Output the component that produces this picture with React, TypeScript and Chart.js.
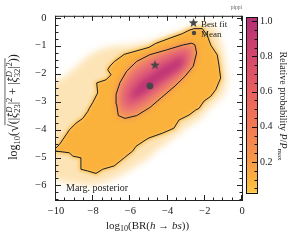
import React, { useEffect, useRef } from "react";
import { Chart, registerables } from "chart.js";
Chart.register(...registerables);

const SERIF = "'Liberation Serif', 'DejaVu Serif', serif";

// ---------- axis ranges & ticks ----------
const X_MIN = -10;
const X_MAX = 0;
const Y_MIN = -6.52;
const Y_MAX = 0.07;
const xTickValues = [-10, -8, -6, -4, -2, 0];
const yTickValues = [-6, -5, -4, -3, -2, -1, 0];
const cbTickValues = [0.2, 0.4, 0.6, 0.8, 1.0];
const CB_MIN = 0.018;
const CB_MAX = 1.024;

// ---------- density regions (x = log10 BR, y = log10 sqrt(...)) ----------
const faintRegion: number[][] = [
  [-10.6, -2.22], [-10.0, -2.22], [-9.64, -2.16], [-8.92, -1.75], [-8.21, -1.33], [-7.49, -1.1],
  [-6.77, -1.0], [-6.06, -0.98], [-5.0, -0.86], [-3.92, -0.63], [-3.21, -0.45], [-2.85, -0.33],
  [-2.31, -0.21], [-1.68, -0.21], [-1.33, -0.45], [-1.06, -0.98], [-0.88, -1.69], [-0.79, -2.28],
  [-0.97, -2.75], [-1.51, -3.1], [-1.77, -3.24], [-2.22, -3.6], [-3.03, -3.95], [-3.92, -4.42],
  [-4.64, -4.77], [-5.0, -5.01], [-5.7, -5.3], [-6.41, -5.6], [-7.31, -5.89], [-8.21, -6.01],
  [-8.92, -5.95], [-9.64, -5.89], [-10.0, -5.78], [-10.6, -5.8],
];
const outerContour: number[][] = [
  [-10.0, -4.66], [-9.82, -4.54], [-9.46, -4.19], [-9.28, -4.01], [-8.92, -3.77], [-8.56, -3.6],
  [-8.3, -3.36], [-8.21, -3.24], [-8.03, -3.04], [-7.76, -2.69], [-7.81, -2.33], [-7.31, -2.22],
  [-7.04, -2.04], [-7.22, -1.86], [-7.1, -1.73], [-6.87, -1.57], [-6.33, -1.31], [-5.0, -1.06],
  [-4.64, -0.92], [-3.92, -0.74], [-3.21, -0.57], [-2.85, -0.45], [-2.58, -0.39], [-2.13, -0.39],
  [-1.87, -0.63], [-1.68, -0.98], [-1.33, -1.33], [-1.24, -1.69], [-1.15, -2.16], [-1.41, -2.57],
  [-1.68, -2.81], [-2.04, -2.98], [-2.31, -3.24], [-2.49, -3.3], [-2.85, -3.48], [-3.39, -3.66],
  [-3.66, -3.95], [-4.28, -4.13], [-5.0, -4.3], [-5.16, -4.36], [-5.7, -4.6], [-5.88, -4.77],
  [-6.33, -5.01], [-6.87, -5.3], [-7.49, -5.42], [-7.85, -5.57], [-8.3, -5.48], [-8.66, -5.42],
  [-8.66, -5.01], [-9.1, -4.95], [-9.28, -4.83], [-10.0, -4.77],
];
const innerContour: number[][] = [
  [-2.53, -0.97], [-2.44, -1.26], [-2.62, -1.73], [-3.06, -2.09], [-3.6, -2.44], [-4.32, -2.85],
  [-4.95, -3.21], [-5.66, -3.5], [-6.29, -3.6], [-6.65, -3.5], [-6.74, -3.09], [-6.77, -2.74],
  [-6.56, -2.32], [-6.2, -1.91], [-5.66, -1.56], [-4.95, -1.32], [-4.05, -1.15], [-3.16, -0.97],
  [-2.7, -0.91], [-2.53, -0.97],
];
const ridgeRegion: number[][] = [
  [-6.5, -3.1], [-6.4, -2.5], [-5.8, -1.98], [-4.95, -1.62], [-3.98, -1.3], [-3.17, -1.1],
  [-2.75, -1.12], [-2.8, -1.55], [-3.4, -2.02], [-4.35, -2.52], [-5.35, -3.02], [-6.05, -3.3],
];
const coreRegion: number[][] = [
  [-6.05, -2.8], [-5.5, -2.3], [-4.41, -1.8], [-3.44, -1.43], [-3.05, -1.43], [-3.28, -1.8],
  [-4.3, -2.22], [-5.22, -2.68], [-5.81, -2.92],
];
const bestFit = [-4.68, -1.68];
const posteriorMean = [-4.95, -2.44];

const toPts = (a: number[][]) => a.map(([x, y]) => ({ x, y }));
const fmtMinus = (v: number) => (v < 0 ? "\u2212" + Math.abs(v) : String(v));

type Seg = { t: string; s: number; dy?: number; dx?: number; it?: boolean; na?: boolean; ol?: boolean };

function drawRich(ctx: CanvasRenderingContext2D, segs: Seg[], cx: number, cy: number, rot: number, color = "#222") {
  ctx.save();
  ctx.translate(cx, cy);
  ctx.rotate(rot);
  const font = (g: Seg) => `${g.it ? "italic " : ""}${g.s}px ${SERIF}`;
  let W = 0;
  for (const g of segs) {
    ctx.font = font(g);
    if (!g.na) W += ctx.measureText(g.t).width;
  }
  let x = -W / 2;
  ctx.fillStyle = color;
  ctx.strokeStyle = color;
  ctx.textBaseline = "alphabetic";
  ctx.textAlign = "left";
  const base = segs[0].s * 0.35;
  let olStart: number | null = null;
  let olEnd = 0;
  for (const g of segs) {
    ctx.font = font(g);
    const w = ctx.measureText(g.t).width;
    ctx.fillText(g.t, x + (g.dx || 0), base + (g.dy || 0));
    if (g.ol) {
      if (olStart === null) olStart = x;
      olEnd = Math.max(olEnd, x + w);
    }
    if (!g.na) x += w;
  }
  if (olStart !== null) {
    ctx.lineWidth = 0.7;
    ctx.beginPath();
    const yy = base - segs[0].s * 1.02;
    ctx.moveTo(olStart - 1, yy);
    ctx.lineTo(olEnd, yy);
    ctx.stroke();
  }
  ctx.restore();
}

function starPath(ctx: CanvasRenderingContext2D, cx: number, cy: number, r: number) {
  ctx.beginPath();
  for (let i = 0; i < 10; i++) {
    const rr = i % 2 === 0 ? r : r * 0.42;
    const a = -Math.PI / 2 + (i * Math.PI) / 5;
    const px = cx + rr * Math.cos(a);
    const py = cy + rr * Math.sin(a);
    if (i === 0) ctx.moveTo(px, py);
    else ctx.lineTo(px, py);
  }
  ctx.closePath();
}

function makeStarCanvas(r: number, color: string) {
  const c = document.createElement("canvas");
  const s = Math.ceil(2 * r + 2);
  c.width = s;
  c.height = s;
  const g = c.getContext("2d")!;
  g.fillStyle = color;
  starPath(g, s / 2, s / 2 + 0.5, r);
  g.fill();
  return c;
}

const MARK = "#474747";

const densityPlugin = {
  id: "density",
  beforeDatasetsDraw(chart: any) {
    const { ctx, chartArea: a } = chart;
    ctx.save();
    ctx.beginPath();
    ctx.rect(a.left, a.top, a.right - a.left, a.bottom - a.top);
    ctx.clip();
    chart.data.datasets.forEach((ds: any, i: number) => {
      if (!ds.fillColor) return;
      const pts = chart.getDatasetMeta(i).data;
      ctx.filter = `blur(${ds.blur || 0}px)`;
      ctx.beginPath();
      pts.forEach((p: any, k: number) => (k === 0 ? ctx.moveTo(p.x, p.y) : ctx.lineTo(p.x, p.y)));
      ctx.closePath();
      if (ds.halo) {
        ctx.lineWidth = ds.halo[0];
        ctx.strokeStyle = ds.halo[1];
        ctx.lineJoin = "round";
        ctx.stroke();
      }
      ctx.fillStyle = ds.fillColor;
      ctx.fill();
      ctx.filter = "none";
    });
    ctx.restore();
  },
  afterDraw(chart: any) {
    const { ctx, chartArea: a, scales } = chart;
    const xs = scales.x;
    const ys = scales.y;
    ctx.save();
    ctx.strokeStyle = "#222";
    ctx.lineWidth = 1;
    ctx.strokeRect(a.left - 0.5, a.top + 0.5, a.right - a.left + 1, a.bottom - a.top);
    ctx.beginPath();
    for (let v = X_MIN; v <= X_MAX + 1e-9; v += 0.5) {
      const major = Math.abs(v / 2 - Math.round(v / 2)) < 1e-6;
      const len = major ? 5 : 2.5;
      const px = Math.round(xs.getPixelForValue(v)) - 0.5;
      ctx.moveTo(px, a.bottom);
      ctx.lineTo(px, a.bottom - len);
      ctx.moveTo(px, a.top);
      ctx.lineTo(px, a.top + len);
    }
    for (let v = Math.ceil(Y_MIN * 4) / 4; v <= Y_MAX + 1e-9; v += 0.25) {
      const major = Math.abs(v - Math.round(v)) < 1e-6;
      const len = major ? 5 : 2.5;
      const py = Math.round(ys.getPixelForValue(v)) + 0.5;
      ctx.moveTo(a.left, py);
      ctx.lineTo(a.left + len, py);
      ctx.moveTo(a.right, py);
      ctx.lineTo(a.right - len, py);
    }
    ctx.stroke();

    // legend
    ctx.fillStyle = MARK;
    starPath(ctx, 193.5, 23, 5);
    ctx.fill();
    ctx.beginPath();
    ctx.arc(194, 33, 2.2, 0, Math.PI * 2);
    ctx.fill();
    ctx.fillStyle = "#222";
    ctx.font = `9px ${SERIF}`;
    ctx.textAlign = "left";
    ctx.textBaseline = "alphabetic";
    ctx.fillText("Best fit", 201, 26.5);
    ctx.fillText("Mean", 201, 36.5);
    ctx.font = `10px ${SERIF}`;
    ctx.fillText("Marg. posterior", 66, 191);
    ctx.fillStyle = "#666";
    ctx.font = `5.5px ${SERIF}`;
    ctx.textAlign = "right";
    ctx.fillText("pippi", 242, 9);
    ctx.restore();

    // axis titles
    drawRich(
      ctx,
      [
        { t: "log", s: 11 },
        { t: "10", s: 8, dy: 2.5 },
        { t: "(", s: 11 },
        { t: "BR(", s: 11 },
        { t: "h", s: 11, it: true },
        { t: " \u2192 ", s: 11 },
        { t: "bs", s: 11, it: true },
        { t: "))", s: 11 },
      ],
      147.5,
      225,
      0
    );
    drawRich(
      ctx,
      [
        { t: "log", s: 12 },
        { t: "10", s: 8.5, dy: 3 },
        { t: "(", s: 12 },
        { t: "\u221A", s: 14, dy: 1 },
        { t: "(", s: 12, ol: true },
        { t: "|", s: 12, ol: true },
        { t: "\u02C6", s: 10, dx: 1.5, dy: -2, na: true },
        { t: "\u03BE", s: 12, it: true, ol: true },
        { t: "D", s: 8.5, dy: -5, it: true, na: true },
        { t: "23", s: 8.5, dy: 3, ol: true },
        { t: "|", s: 12, ol: true },
        { t: "2", s: 8.5, dy: -5, ol: true },
        { t: " + ", s: 12, ol: true },
        { t: "|", s: 12, ol: true },
        { t: "\u02C6", s: 10, dx: 1.5, dy: -2, na: true },
        { t: "\u03BE", s: 12, it: true, ol: true },
        { t: "D", s: 8.5, dy: -5, it: true, na: true },
        { t: "32", s: 8.5, dy: 3, ol: true },
        { t: "|", s: 12, ol: true },
        { t: "2", s: 8.5, dy: -5, ol: true },
        { t: ")", s: 12, ol: true },
        { t: ")", s: 12 },
      ],
      13,
      107,
      -Math.PI / 2
    );
  },
};

const cbPlugin = {
  id: "cbframe",
  afterDraw(chart: any) {
    const { ctx, chartArea: a, scales } = chart;
    const ys = scales.y;
    ctx.save();
    ctx.strokeStyle = "#111";
    ctx.lineWidth = 1;
    ctx.strokeRect(a.left + 0.5, a.top + 0.5, a.right - a.left - 1, a.bottom - a.top - 1);
    ctx.beginPath();
    for (let v = 0.05; v <= CB_MAX; v += 0.05) {
      const major = Math.abs(v * 5 - Math.round(v * 5)) < 1e-6;
      const len = major ? 5 : 2.5;
      const py = Math.round(ys.getPixelForValue(v)) + 0.5;
      ctx.moveTo(a.right - 1, py);
      ctx.lineTo(a.right - 1 - len, py);
    }
    ctx.stroke();
    ctx.restore();
    drawRich(
      ctx,
      [
        { t: "Relative probability ", s: 10 },
        { t: "P", s: 10, it: true },
        { t: "/", s: 10 },
        { t: "P", s: 10, it: true },
        { t: "max", s: 7, dy: 2 },
      ],
      37,
      106,
      Math.PI / 2
    );
  },
};

const cbStops: [number, string][] = [
  [0.018, "#fdf2d0"],
  [0.03, "#fdc547"],
  [0.1, "#fbb23c"],
  [0.2, "#f89a48"],
  [0.4, "#f27a55"],
  [0.6, "#e86060"],
  [0.8, "#d5476c"],
  [1.0, "#b63175"],
];

export default function App() {
  const mainRef = useRef<HTMLCanvasElement>(null);
  const cbRef = useRef<HTMLCanvasElement>(null);

  useEffect(() => {
    const star = makeStarCanvas(5, MARK);
    const main = new Chart(mainRef.current!, {
      type: "scatter",
      data: {
        datasets: [
          { data: toPts(faintRegion), fillColor: "#fde4b6", blur: 3.5, pointRadius: 0 } as any,
          { data: toPts(outerContour), fillColor: "#fbb23c", halo: [5, "#fccf78"], blur: 1.8, pointRadius: 0 } as any,
          { data: toPts(innerContour), fillColor: "#f18a68", blur: 3.5, pointRadius: 0 } as any,
          { data: toPts(ridgeRegion), fillColor: "#e15c78", blur: 4.5, pointRadius: 0 } as any,
          { data: toPts(coreRegion), fillColor: "#bd3376", blur: 3.5, pointRadius: 0 } as any,
          {
            data: toPts(outerContour),
            showLine: true,
            borderColor: "#1c1c1c",
            borderWidth: 1,
            pointRadius: 0,
            tension: 0,
          },
          {
            data: toPts(innerContour),
            showLine: true,
            borderColor: "#1c1c1c",
            borderWidth: 1,
            pointRadius: 0,
            tension: 0,
          },
          {
            data: [{ x: bestFit[0], y: bestFit[1] }],
            pointStyle: star as any,
            pointRadius: 5,
          },
          {
            data: [{ x: posteriorMean[0], y: posteriorMean[1] }],
            pointStyle: "circle",
            pointRadius: 3.4,
            backgroundColor: MARK,
            borderWidth: 0,
          },
        ],
      },
      options: {
        animation: false,
        responsive: false,
        devicePixelRatio: 1,
        events: [],
        layout: { padding: { top: 12, right: 54, left: 0, bottom: 0 } },
        plugins: { legend: { display: false }, tooltip: { enabled: false } },
        scales: {
          x: {
            type: "linear",
            min: X_MIN,
            max: X_MAX,
            afterBuildTicks: (s: any) => {
              s.ticks = xTickValues.map((v) => ({ value: v }));
            },
            afterFit: (s: any) => {
              s.height = 40;
            },
            ticks: { callback: (v: any) => fmtMinus(Number(v)), font: { family: SERIF, size: 10.5 }, color: "#222", padding: 5, maxRotation: 0 },
            grid: { display: false, drawTicks: false },
            border: { display: false },
          },
          y: {
            type: "linear",
            min: Y_MIN,
            max: Y_MAX,
            afterBuildTicks: (s: any) => {
              s.ticks = yTickValues.map((v) => ({ value: v }));
            },
            afterFit: (s: any) => {
              s.width = 56;
            },
            ticks: { callback: (v: any) => fmtMinus(Number(v)), font: { family: SERIF, size: 10.5 }, color: "#222", padding: 9.5 },
            grid: { display: false, drawTicks: false },
            border: { display: false },
          },
        },
      },
      plugins: [densityPlugin],
    });

    const cb = new Chart(cbRef.current!, {
      type: "bar",
      data: {
        labels: [""],
        datasets: [
          {
            data: [[CB_MIN, CB_MAX]] as any,
            barPercentage: 1,
            categoryPercentage: 1,
            borderWidth: 0,
            backgroundColor: (c: any) => {
              const { chart } = c;
              const area = chart.chartArea;
              if (!area) return "#f27a55";
              const g = chart.ctx.createLinearGradient(0, area.bottom, 0, area.top);
              cbStops.forEach(([v, col]) => g.addColorStop(Math.min(1, Math.max(0, (v - CB_MIN) / (CB_MAX - CB_MIN))), col));
              return g;
            },
          },
        ],
      },
      options: {
        animation: false,
        responsive: false,
        devicePixelRatio: 1,
        events: [],
        layout: { padding: { top: 17, bottom: 46, left: 0, right: 0 } },
        plugins: { legend: { display: false }, tooltip: { enabled: false } },
        scales: {
          x: { display: false },
          y: {
            position: "right",
            min: CB_MIN,
            max: CB_MAX,
            afterBuildTicks: (s: any) => {
              s.ticks = cbTickValues.map((v) => ({ value: v }));
            },
            afterFit: (s: any) => {
              s.width = 38;
            },
            ticks: { callback: (v: any) => Number(v).toFixed(1), font: { family: SERIF, size: 10 }, color: "#222", padding: 2 },
            grid: { display: false, drawTicks: false },
            border: { display: false },
          },
        },
      },
      plugins: [cbPlugin],
    });

    return () => {
      main.destroy();
      cb.destroy();
    };
  }, []);

  return (
    <div style={{ position: "fixed", left: 0, top: 0, width: 296, height: 240, background: "#fff" }}>
      <canvas ref={mainRef} width={296} height={240} style={{ position: "absolute", left: 0, top: 0, width: 296, height: 240 }} />
      <canvas ref={cbRef} width={50} height={240} style={{ position: "absolute", left: 246, top: 0, width: 50, height: 240 }} />
    </div>
  );
}
